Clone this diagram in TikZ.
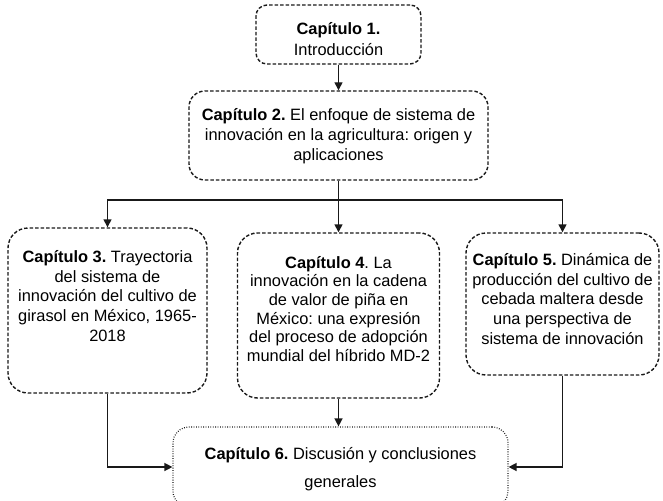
\documentclass[tikz,border=0pt]{standalone}
\usepackage{fontspec}
\setmainfont{Liberation Sans}
\usetikzlibrary{arrows.meta}
\frenchspacing
\begin{document}
\begin{tikzpicture}[x=1pt,y=-1pt,
  box/.style={draw=black!90, line width=1.4pt, dash pattern=on 3.5pt off 2pt, rounded corners=16pt, inner sep=0pt},
  dotbox/.style={draw=black!90, line width=1.2pt, dash pattern=on 0.8pt off 1.6pt, rounded corners=16pt, inner sep=0pt},
  txt/.style={align=center, font=\fontsize{16.4}{19.7}\selectfont, inner sep=0pt},
  arr/.style={draw=black!90, line width=1.4pt, -{Triangle[length=8pt,width=8pt]}},
  ln/.style={draw=black!90, line width=1.4pt}]
\useasboundingbox (0,0) rectangle (663,500);
\clip (0,0) rectangle (663,500);
\node[box, minimum width=165pt, minimum height=59pt, rounded corners=11pt] (b1) at (338.5,34.5) {};
\node[box, minimum width=299pt, minimum height=89pt] (b2) at (338.5,135.5) {};
\node[box, minimum width=199pt, minimum height=165pt, rounded corners=20pt] (b3) at (107.5,310.5) {};
\node[box, minimum width=202pt, minimum height=165pt, rounded corners=20pt] (b4) at (338.5,315.5) {};
\node[box, minimum width=193pt, minimum height=142pt, rounded corners=20pt] (b5) at (562.5,304) {};
\node[dotbox, minimum width=335pt, minimum height=80pt] (b6) at (340.5,467) {};
\node[txt, font=\fontsize{16.4}{21.5}\selectfont] (t1) at (338.5,39) {\textbf{Capítulo 1.}\\Introducción};
\node[txt] (t2) at (338.5,136) {\textbf{Capítulo 2.} El enfoque de sistema de\\innovación en la agricultura: origen y\\aplicaciones};
\node[txt] (t3) at (107.5,296) {\textbf{Capítulo 3.} Trayectoria\\del sistema de\\innovación del cultivo de\\girasol en México, 1965-\\2018};
\node[txt, font=\fontsize{16.4}{18.7}\selectfont] (t4) at (338.5,309) {\textbf{Capítulo 4}. La\\innovación en la cadena\\de valor de piña en\\México: una expresión\\del proceso de adopción\\mundial del híbrido MD-2};
\node[txt] (t5) at (562.5,299) {\textbf{Capítulo 5.} Dinámica de\\producción del cultivo de\\cebada maltera desde\\una perspectiva de\\sistema de innovación};
\node[txt, font=\fontsize{16.4}{28}\selectfont] (t6) at (340.5,469) {\textbf{Capítulo 6.} Discusión y conclusiones\\generales};
\coordinate (j) at (338.5,200);
\draw[arr] (b1.south) -- (b2.north);
\draw[ln] (b2.south) -- (j);
\draw[arr] (j) -| (b3.north);
\draw[arr] (j) -| (b5.north);
\draw[arr] (j) -- (b4.north);
\draw[arr] (b3.south) |- (b6.west);
\draw[arr] (b5.south) |- (b6.east);
\draw[arr] (b4.south) -- (b4.south |- b6.north);
\end{tikzpicture}
\end{document}
